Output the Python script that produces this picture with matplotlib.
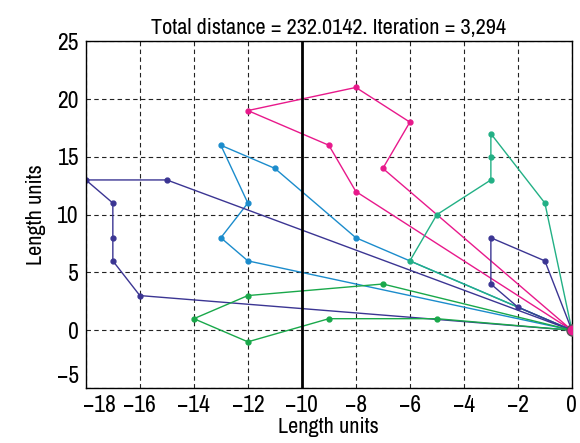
import matplotlib
matplotlib.use("Agg")
import matplotlib.pyplot as plt
from matplotlib import font_manager
import matplotlib.transforms as mtransforms

# pick a narrow sans if one is installed, otherwise Liberation Sans
names = {f.name for f in font_manager.fontManager.ttflist}
narrow = [n for n in names if 'Narrow' in n or 'Condensed' in n]
fam = (sorted(narrow)[:1] or ['Liberation Sans']) + ['DejaVu Sans']
plt.rcParams['font.family'] = fam

# depot at origin, each route starts and ends there
depot = (0, 0)

pink_x = [0, -8, -9, -12, -8, -6, -7, 0]
pink_y = [0, 12, 16, 19, 21, 18, 14, 0]

blue_x = [0, -8, -11, -13, -12, -13, -12, 0]
blue_y = [0, 8, 14, 16, 11, 8, 6, 0]

teal_x = [0, -1, -3, -3, -3, -5, -6, 0]
teal_y = [0, 11, 17, 15, 13, 10, 6, 0]

indigo1_x = [0, -15, -18, -17, -17, -17, -16, 0]
indigo1_y = [0, 13, 13, 11, 8, 6, 3, 0]

indigo2_x = [0, -1, -3, -3, -2, 0]
indigo2_y = [0, 6, 8, 4, 2, 0]

green_x = [0, -7, -12, -14, -12, -9, -5, 0]
green_y = [0, 4, 3, 1, -1, 1, 1, 0]

routes = [
    (pink_x, pink_y, '#e8198b'),
    (blue_x, blue_y, '#1b8ccc'),
    (teal_x, teal_y, '#22b085'),
    (indigo1_x, indigo1_y, '#3b3593'),
    (indigo2_x, indigo2_y, '#3b3593'),
    (green_x, green_y, '#19a84a'),
]

xticks = list(range(-18, 1, 2))
yticks = list(range(-5, 26, 5))

fig = plt.figure(figsize=(5.8, 4.43), dpi=100)
ax = fig.add_axes([0.148, 0.124, 0.838, 0.783])

for rx, ry, c in routes:
    ax.plot(rx, ry, '-', color=c, lw=1.0, marker='o', markersize=3.5,
            markevery=list(range(1, len(rx) - 1)))

ax.plot([depot[0]], [depot[1]], 'o', markersize=8, markerfacecolor='#e8198b',
        markeredgecolor='#555555', markeredgewidth=1.0, zorder=5)

ax.axvline(-10, color='black', lw=2, zorder=3)

ax.set_xlim(-18, 0)
ax.set_ylim(-5, 25)
ax.set_xticks(xticks)
ax.set_yticks(yticks)
ax.grid(True, color='#222222', linestyle=(0, (4, 3)), lw=0.8)
ax.tick_params(direction='in', length=0, labelsize=17, pad=5)
for s in ax.spines.values():
    s.set_linewidth(1.0)

# nudge the corner labels apart, like the original
xl = ax.get_xticklabels()[0]
xl.set_transform(xl.get_transform() + mtransforms.ScaledTranslation(10/72, 0, fig.dpi_scale_trans))
yl = ax.get_yticklabels()[0]
yl.set_transform(yl.get_transform() + mtransforms.ScaledTranslation(0, 10/72, fig.dpi_scale_trans))

ax.set_title('Total distance = 232.0142. Iteration = 3,294', fontsize=16, pad=5)
ax.set_xlabel('Length units', fontsize=16, labelpad=1)
ax.set_ylabel('Length units', fontsize=16, labelpad=8)

fig.savefig('out.png', dpi=100)
